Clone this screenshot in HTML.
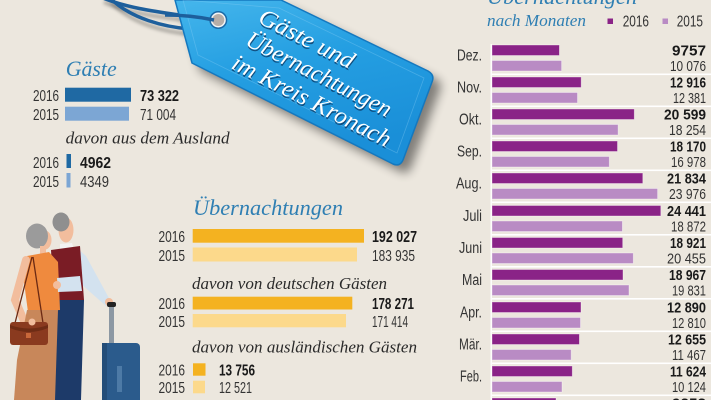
<!DOCTYPE html>
<html><head><meta charset="utf-8"><style>
html,body{margin:0;padding:0;background:#ece7de;}
svg{display:block;}
.s{font-family:"Liberation Sans",Arial,sans-serif;}
.i{font-family:"Liberation Serif",serif;font-style:italic;}
</style></head><body>
<svg width="711" height="400" viewBox="0 0 711 400" xmlns="http://www.w3.org/2000/svg">
<defs>
<filter id="blur" x="-30%" y="-30%" width="160%" height="160%"><feGaussianBlur stdDeviation="5"/></filter>
<filter id="blur2" x="-30%" y="-30%" width="160%" height="160%"><feGaussianBlur stdDeviation="1.5"/></filter>
<linearGradient id="tg" x1="0" y1="0" x2="0.35" y2="1">
<stop offset="0" stop-color="#45b6ec"/><stop offset="0.45" stop-color="#259fe2"/><stop offset="1" stop-color="#1a8fd8"/>
</linearGradient>
</defs>
<rect width="711" height="400" fill="#ece7de"/>

<!-- string shadow -->
<path d="M104,2 C135,16 172,18 212,24" stroke="#000" stroke-opacity="0.25" stroke-width="4" fill="none" filter="url(#blur2)"/>
<path d="M111,2 C132,24 165,32 190,34" stroke="#000" stroke-opacity="0.25" stroke-width="4" fill="none" filter="url(#blur2)"/>
<!-- tag shadow -->
<path d="M175,0 L281,0 L428,71 Q435,75 432,82 L403,160 Q400,167 393,164 L192,63 Z" fill="#000" opacity="0.45" transform="translate(8,8)" filter="url(#blur)"/>
<!-- string -->
<path d="M103,-2 C135,11 172,13 212,20" stroke="#1d5f9c" stroke-width="3.5" fill="none"/>
<path d="M110,-2 C131,19 165,27 190,29" stroke="#1d5f9c" stroke-width="3.5" fill="none"/>
<!-- tag -->
<path d="M175,0 L281,0 L428,71 Q435,75 432,82 L403,160 Q400,167 393,164 L192,63 Z" fill="url(#tg)" stroke="#1478bf" stroke-width="1.5"/>
<path d="M183,0 L279,8 L424,78 L397,153 L198,55 Z" fill="none" stroke="#8fd2f5" stroke-opacity="0.35" stroke-width="0.8"/>
<circle cx="218.3" cy="20" r="9" fill="#1a6aa8"/>
<circle cx="218.3" cy="20" r="7.5" fill="#f4f4f4"/>
<circle cx="218.3" cy="20" r="6" fill="#b7aea8"/>
<path d="M165,15 C185,15 200,17 214,20" stroke="#1d5f9c" stroke-width="3.5" fill="none"/>
<!-- tag text -->
<g transform="translate(257,22) rotate(27)">
<g fill="#0b3a66" opacity="0.8" transform="translate(1,1.6)">
<text class="i" x="0" y="0" font-size="24" textLength="104" lengthAdjust="spacingAndGlyphs">Gäste und</text>
<text class="i" x="-1" y="26" font-size="24" textLength="160" lengthAdjust="spacingAndGlyphs">Übernachtungen</text>
<text class="i" x="-3" y="53" font-size="24" textLength="175" lengthAdjust="spacingAndGlyphs">im Kreis Kronach</text>
</g>
<g fill="#ffffff">
<text class="i" x="0" y="0" font-size="24" textLength="104" lengthAdjust="spacingAndGlyphs">Gäste und</text>
<text class="i" x="-1" y="26" font-size="24" textLength="160" lengthAdjust="spacingAndGlyphs">Übernachtungen</text>
<text class="i" x="-3" y="53" font-size="24" textLength="175" lengthAdjust="spacingAndGlyphs">im Kreis Kronach</text>
</g>
</g>

<!-- LEFT: Gäste -->
<text class="i" x="65.7" y="76" font-size="22" fill="#2f7fb3" textLength="51" lengthAdjust="spacingAndGlyphs">Gäste</text>
<g class="s" font-size="16" fill="#333">
<text x="33" y="101" textLength="26" lengthAdjust="spacingAndGlyphs">2016</text>
<text x="33" y="120" textLength="26" lengthAdjust="spacingAndGlyphs">2015</text>
<text x="33" y="168" textLength="26" lengthAdjust="spacingAndGlyphs">2016</text>
<text x="33" y="187" textLength="26" lengthAdjust="spacingAndGlyphs">2015</text>
</g>
<rect x="65" y="87.7" width="66" height="14" fill="#1f69a3"/>
<rect x="65" y="106.7" width="64" height="14" fill="#7ca6d4"/>
<rect x="66.5" y="154" width="4.5" height="14" fill="#1f69a3"/>
<rect x="66.5" y="173" width="4" height="14.5" fill="#7ca6d4"/>
<text class="s" x="140" y="101" font-size="16" font-weight="bold" fill="#1a1a1a" textLength="39" lengthAdjust="spacingAndGlyphs">73 322</text>
<text class="s" x="140" y="120" font-size="16" fill="#333" textLength="36" lengthAdjust="spacingAndGlyphs">71 004</text>
<text class="i" x="65.7" y="143.5" font-size="17" fill="#2a2a2a" textLength="164" lengthAdjust="spacingAndGlyphs">davon aus dem Ausland</text>
<text class="s" x="80" y="168" font-size="16" font-weight="bold" fill="#1a1a1a" textLength="31" lengthAdjust="spacingAndGlyphs">4962</text>
<text class="s" x="80" y="187" font-size="16" fill="#333" textLength="29" lengthAdjust="spacingAndGlyphs">4349</text>

<!-- LEFT: Übernachtungen -->
<text class="i" x="193" y="215" font-size="22.5" fill="#2f7fb3" textLength="150" lengthAdjust="spacingAndGlyphs">Übernachtungen</text>
<g class="s" font-size="16" fill="#333">
<text x="158.5" y="242" textLength="26.5" lengthAdjust="spacingAndGlyphs">2016</text>
<text x="158.5" y="261" textLength="26.5" lengthAdjust="spacingAndGlyphs">2015</text>
<text x="158.5" y="309" textLength="26.5" lengthAdjust="spacingAndGlyphs">2016</text>
<text x="158.5" y="327" textLength="26.5" lengthAdjust="spacingAndGlyphs">2015</text>
<text x="158.5" y="375.5" textLength="26.5" lengthAdjust="spacingAndGlyphs">2016</text>
<text x="158.5" y="393" textLength="26.5" lengthAdjust="spacingAndGlyphs">2015</text>
</g>
<rect x="192.7" y="229" width="171.3" height="13.7" fill="#f4b220"/>
<rect x="192.7" y="247.5" width="164.3" height="14" fill="#fcd98b"/>
<rect x="192.7" y="296.7" width="159.6" height="12.8" fill="#f4b220"/>
<rect x="192.7" y="314" width="153.3" height="13.3" fill="#fcd98b"/>
<rect x="193" y="363.3" width="12.5" height="12.4" fill="#f4b220"/>
<rect x="193" y="380.7" width="12" height="12.6" fill="#fcd98b"/>
<text class="s" x="372" y="242" font-size="16" font-weight="bold" fill="#1a1a1a" textLength="45" lengthAdjust="spacingAndGlyphs">192 027</text>
<text class="s" x="372" y="261" font-size="16" fill="#333" textLength="43" lengthAdjust="spacingAndGlyphs">183 935</text>
<text class="i" x="192" y="289" font-size="17" fill="#2a2a2a" textLength="195" lengthAdjust="spacingAndGlyphs">davon von deutschen Gästen</text>
<text class="s" x="372" y="309" font-size="16" font-weight="bold" fill="#1a1a1a" textLength="42" lengthAdjust="spacingAndGlyphs">178 271</text>
<text class="s" x="372" y="327" font-size="16" fill="#333" textLength="36" lengthAdjust="spacingAndGlyphs">171 414</text>
<text class="i" x="192" y="352.5" font-size="17" fill="#2a2a2a" textLength="225" lengthAdjust="spacingAndGlyphs">davon von ausländischen Gästen</text>
<text class="s" x="219" y="375.5" font-size="16" font-weight="bold" fill="#1a1a1a" textLength="36" lengthAdjust="spacingAndGlyphs">13 756</text>
<text class="s" x="219" y="393" font-size="16" fill="#333" textLength="33" lengthAdjust="spacingAndGlyphs">12 521</text>

<!-- PEOPLE -->
<g>
<!-- man -->
<ellipse cx="66" cy="230" rx="7.5" ry="12.5" fill="#f2bd9d"/>
<ellipse cx="61" cy="222" rx="8.5" ry="9.5" fill="#8f8f8f"/>
<path d="M60,244 L72,243 L74,250 L60,251 Z" fill="#f3f3f3"/>
<path d="M78,249 L86,256 L110,300 L106,306 L80,283 Z" fill="#d3e2ef"/>
<circle cx="109" cy="302" r="4" fill="#f2bd9d"/>
<path d="M51,250 L80,246 L84,300 L54,301 Z" fill="#7a1c25"/>
<path d="M54,300 L84,300 L81,400 L52,400 Z" fill="#1d3a69"/>
<!-- woman -->
<ellipse cx="45" cy="240" rx="6.5" ry="9.5" fill="#f2bd9d"/>
<ellipse cx="37" cy="236" rx="11" ry="12.5" fill="#9b9b9b"/>
<rect x="40" y="246" width="6" height="9" fill="#f2bd9d"/>
<path d="M27,256 L49,252 L58,262 L60,310 L28,312 L24,282 Z" fill="#ef8a3e"/>
<path d="M26,260 L15,300 L25,323" stroke="#f2bd9d" stroke-width="8" fill="none" stroke-linecap="round"/>
<path d="M27,310 L58,310 L55,400 L14,400 L17,360 Z" fill="#c8875a"/>
<path d="M32,257 L15,323 M33,257 L43,323" stroke="#6b2a14" stroke-width="1.3" fill="none"/>
<rect x="10" y="322" width="38" height="23" rx="3" fill="#8a3a1f"/>
<path d="M10,325 Q29,332 48,325 L48,328 Q29,336 10,328 Z" fill="#6e2c15"/>
<rect x="26" y="333" width="5" height="5" fill="#c9683a"/>
<circle cx="32" cy="322" r="3.5" fill="#f2bd9d"/>
<!-- man's arm around -->
<path d="M57,278 L80,276 L82,291 L58,292 Z" fill="#d3e2ef"/>
<circle cx="57" cy="285" r="4" fill="#f2bd9d"/>
<!-- suitcase -->
<rect x="109" y="305" width="5" height="40" fill="#8c98a3"/>
<rect x="107" y="302" width="9" height="5" rx="2" fill="#222"/>
<rect x="102" y="343" width="38" height="62" rx="4" fill="#2b5b8c"/>
<rect x="102" y="343" width="5" height="62" fill="#234d78"/>
<rect x="117" y="366" width="5" height="26" fill="#4d7aa6"/>
</g>

<!-- RIGHT CHART -->
<text class="i" x="487" y="4" font-size="22.5" fill="#2f7fb3" textLength="150" lengthAdjust="spacingAndGlyphs">Übernachtungen</text>
<text class="i" x="487" y="26" font-size="17" fill="#2f7fb3" textLength="99" lengthAdjust="spacingAndGlyphs">nach Monaten</text>
<rect x="607.5" y="18.5" width="5.5" height="5.5" fill="#8a2387"/>
<text class="s" x="622.7" y="26.7" font-size="15.5" fill="#333" textLength="26.3" lengthAdjust="spacingAndGlyphs">2016</text>
<rect x="662.5" y="18.5" width="5.5" height="5.5" fill="#b98bc4"/>
<text class="s" x="676.7" y="26.7" font-size="15.5" fill="#333" textLength="26.3" lengthAdjust="spacingAndGlyphs">2015</text>

<rect x="490.5" y="44" width="1.5" height="356" fill="#fff" opacity="0.9"/>
<g fill="#fff">
<rect x="492" y="73.5" width="219" height="1.6"/>
<rect x="492" y="105.5" width="219" height="1.6"/>
<rect x="492" y="137.5" width="219" height="1.6"/>
<rect x="492" y="169.5" width="219" height="1.6"/>
<rect x="492" y="201.5" width="219" height="1.6"/>
<rect x="492" y="234" width="219" height="1.6"/>
<rect x="492" y="266" width="219" height="1.6"/>
<rect x="492" y="298" width="219" height="1.6"/>
<rect x="492" y="330.5" width="219" height="1.6"/>
<rect x="492" y="362.5" width="219" height="1.6"/>
<rect x="492" y="394.5" width="219" height="1.6"/>
</g>
<g fill="#8a2387" stroke="#fff" stroke-opacity="0.45" stroke-width="0.8">
<rect x="492" y="45" width="67.4" height="10.5"/>
<rect x="492" y="77" width="89.2" height="10.5"/>
<rect x="492" y="109" width="142.3" height="10.5"/>
<rect x="492" y="141" width="125.5" height="10.5"/>
<rect x="492" y="173" width="150.8" height="10.5"/>
<rect x="492" y="205.5" width="168.8" height="10.5"/>
<rect x="492" y="237.5" width="130.7" height="10.5"/>
<rect x="492" y="269.5" width="131" height="10.5"/>
<rect x="492" y="302" width="89" height="10.5"/>
<rect x="492" y="334" width="87.4" height="10.5"/>
<rect x="492" y="366" width="80.3" height="10.5"/>
<rect x="492" y="398" width="64" height="10.5"/>
</g>
<g fill="#b98bc4" stroke="#fff" stroke-opacity="0.45" stroke-width="0.8">
<rect x="492" y="60.5" width="69.6" height="10.5"/>
<rect x="492" y="92.5" width="85.5" height="10.5"/>
<rect x="492" y="124.5" width="126.1" height="10.5"/>
<rect x="492" y="156.5" width="117.3" height="10.5"/>
<rect x="492" y="188.5" width="165.6" height="10.5"/>
<rect x="492" y="221" width="130.4" height="10.5"/>
<rect x="492" y="253" width="141.3" height="10.5"/>
<rect x="492" y="285" width="137" height="10.5"/>
<rect x="492" y="317.5" width="88.5" height="10.5"/>
<rect x="492" y="349.5" width="79.2" height="10.5"/>
<rect x="492" y="381.5" width="70" height="10.5"/>
</g>
<g class="s" font-size="15.5" fill="#333">
<text x="457" y="60.5" textLength="25" lengthAdjust="spacingAndGlyphs">Dez.</text>
<text x="457" y="92.5" textLength="25" lengthAdjust="spacingAndGlyphs">Nov.</text>
<text x="459" y="124.5" textLength="23" lengthAdjust="spacingAndGlyphs">Okt.</text>
<text x="457" y="156.5" textLength="25" lengthAdjust="spacingAndGlyphs">Sep.</text>
<text x="456" y="188.5" textLength="26" lengthAdjust="spacingAndGlyphs">Aug.</text>
<text x="463" y="221" textLength="19" lengthAdjust="spacingAndGlyphs">Juli</text>
<text x="459" y="253" textLength="23" lengthAdjust="spacingAndGlyphs">Juni</text>
<text x="462" y="285" textLength="20" lengthAdjust="spacingAndGlyphs">Mai</text>
<text x="460" y="317.5" textLength="22" lengthAdjust="spacingAndGlyphs">Apr.</text>
<text x="459" y="349.5" textLength="23" lengthAdjust="spacingAndGlyphs">Mär.</text>
<text x="460" y="381.5" textLength="22" lengthAdjust="spacingAndGlyphs">Feb.</text>
</g>
<g class="s" font-size="14.5" font-weight="bold" fill="#1a1a1a">
<text x="672" y="55.5" textLength="34" lengthAdjust="spacingAndGlyphs">9757</text>
<text x="670" y="87.5" textLength="36" lengthAdjust="spacingAndGlyphs">12 916</text>
<text x="664" y="119.5" textLength="42" lengthAdjust="spacingAndGlyphs">20 599</text>
<text x="670" y="151.5" textLength="36" lengthAdjust="spacingAndGlyphs">18 170</text>
<text x="667" y="183.5" textLength="39" lengthAdjust="spacingAndGlyphs">21 834</text>
<text x="667" y="216" textLength="39" lengthAdjust="spacingAndGlyphs">24 441</text>
<text x="670" y="248" textLength="36" lengthAdjust="spacingAndGlyphs">18 921</text>
<text x="669" y="280" textLength="37" lengthAdjust="spacingAndGlyphs">18 967</text>
<text x="667" y="312.5" textLength="39" lengthAdjust="spacingAndGlyphs">12 890</text>
<text x="668" y="344.5" textLength="38" lengthAdjust="spacingAndGlyphs">12 655</text>
<text x="670" y="376.5" textLength="36" lengthAdjust="spacingAndGlyphs">11 624</text>
<text x="672" y="408.5" textLength="34" lengthAdjust="spacingAndGlyphs">9253</text>
</g>
<g class="s" font-size="14.5" fill="#333">
<text x="670" y="71" textLength="36" lengthAdjust="spacingAndGlyphs">10 076</text>
<text x="673" y="103" textLength="33" lengthAdjust="spacingAndGlyphs">12 381</text>
<text x="669" y="135" textLength="37" lengthAdjust="spacingAndGlyphs">18 254</text>
<text x="671" y="167" textLength="35" lengthAdjust="spacingAndGlyphs">16 978</text>
<text x="669" y="199" textLength="37" lengthAdjust="spacingAndGlyphs">23 976</text>
<text x="671" y="231.5" textLength="35" lengthAdjust="spacingAndGlyphs">18 872</text>
<text x="667" y="263.5" textLength="39" lengthAdjust="spacingAndGlyphs">20 455</text>
<text x="672" y="295.5" textLength="34" lengthAdjust="spacingAndGlyphs">19 831</text>
<text x="672" y="328" textLength="34" lengthAdjust="spacingAndGlyphs">12 810</text>
<text x="672" y="360" textLength="34" lengthAdjust="spacingAndGlyphs">11 467</text>
<text x="672" y="392" textLength="34" lengthAdjust="spacingAndGlyphs">10 124</text>
</g>
</svg>
</body></html>
